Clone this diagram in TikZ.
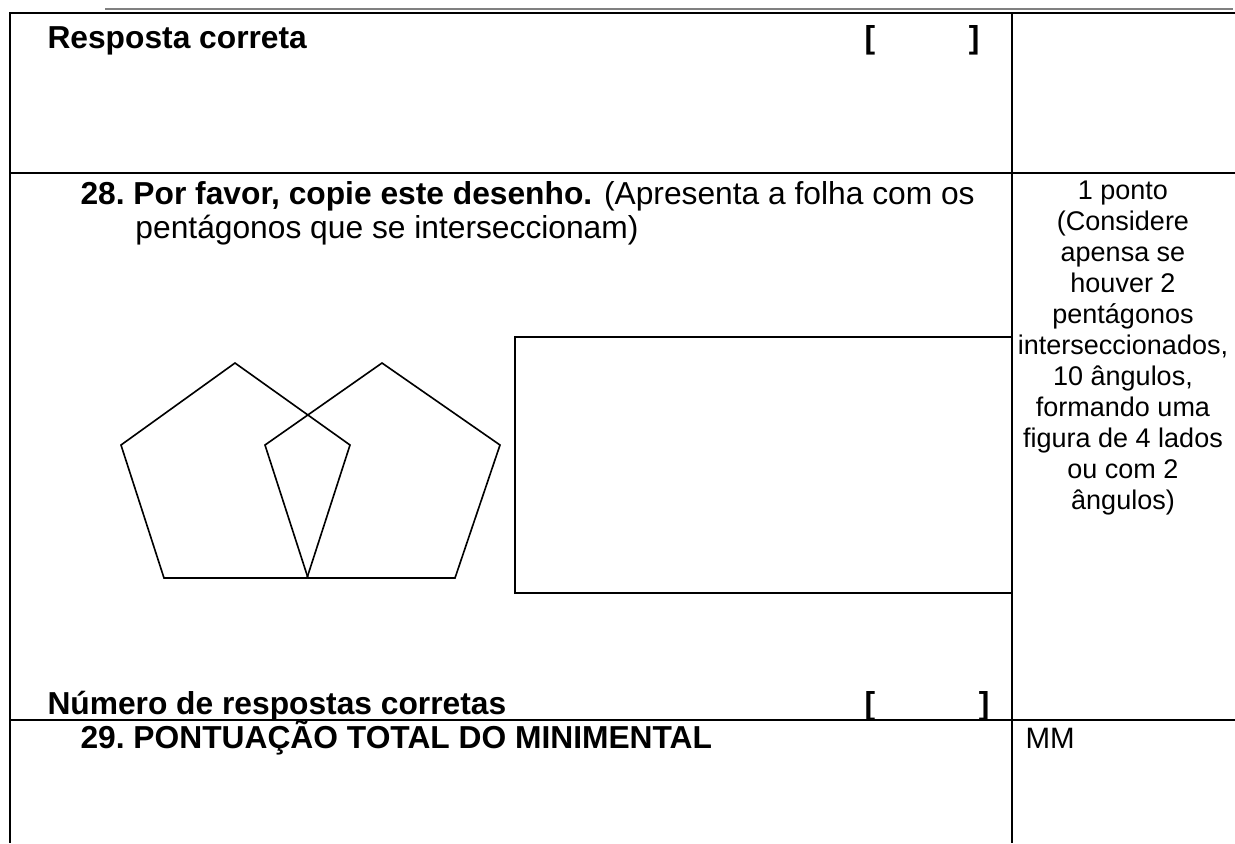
\documentclass[tikz,border=0pt]{standalone}
\usepackage{fontspec}
\setmainfont{Liberation Sans}
\begin{document}
\begin{tikzpicture}[x=0.4pt,y=-0.4pt,
  rule/.style={line width=1pt},
  fig/.style={line width=0.65pt, line join=miter},
  main/.style={inner sep=0pt, font=\fontsize{12.7pt}{14.6pt}\selectfont},
  mainb/.style={inner sep=0pt, font=\fontsize{12.7pt}{14.6pt}\selectfont\bfseries},
  side/.style={inner sep=0pt, font=\fontsize{10.8pt}{12.4pt}\selectfont, align=center}]
\useasboundingbox (0,0) rectangle (1235,843);
% table rules
\draw[gray, line width=0.5pt] (105,9) -- (1233,9);
\draw[rule] (9,13) -- (1235,13);
\draw[rule] (10,13) -- (10,843);
\draw[rule] (1012,13) -- (1012,843);
\draw[rule] (10,173) -- (1235,173);
\draw[rule] (10,720) -- (1235,720);
% row 1
\node[mainb, anchor=base west] (resp) at (47,48) {Resposta correta};
\node[mainb, anchor=base west] (lb1) at (864,48) {[};
\node[mainb, anchor=base east] (rb1) at (980,48) {]};
% row 2
\node[mainb, anchor=base west] (n28) at (80,204) {28.};
\node[main, anchor=base west] (q28a) at (133,204) {\textbf{Por favor, copie este desenho.} (Apresenta a folha com os};
\node[main, anchor=base west] (q28b) at (135,238) {pentágonos que se interseccionam)};
\node[side, anchor=north] (crit) at (1123,180) {1 ponto\\(Considere\\apensa se\\houver 2\\pentágonos\\interseccionados,\\10 ângulos,\\formando uma\\figura de 4 lados\\ou com 2\\ângulos)};
% pentagons
\coordinate (a1) at (235,363);
\coordinate (a2) at (350,445);
\coordinate (a3) at (307,578);
\coordinate (a4) at (164,578);
\coordinate (a5) at (121,445);
\coordinate (b1) at (382,363);
\coordinate (b2) at (500,445);
\coordinate (b3) at (455,578);
\coordinate (b4) at (308,578);
\coordinate (b5) at (265,445);
\draw[fig] (a1) -- (a2) -- (a3) -- (a4) -- (a5) -- cycle;
\draw[fig] (b1) -- (b2) -- (b3) -- (b4) -- (b5) -- cycle;
% drawing box
\coordinate (r1) at (515,337);
\coordinate (r2) at (1012,593);
\draw[fig] (r1) rectangle (r2);
% bottom
\node[mainb, anchor=base west] (num) at (47,714) {Número de respostas corretas};
\node[mainb, anchor=base west] (lb2) at (864,714) {[};
\node[mainb, anchor=base east] (rb2) at (990,714) {]};
\node[mainb, anchor=base west] (n29) at (80,748) {29.};
\node[mainb, anchor=base west] (tot) at (133,748) {PONTUAÇÃO TOTAL DO MINIMENTAL};
\node[side, anchor=base west, font=\fontsize{11.8pt}{13pt}\selectfont] (mm) at (1025,748) {MM};
\end{tikzpicture}
\end{document}
